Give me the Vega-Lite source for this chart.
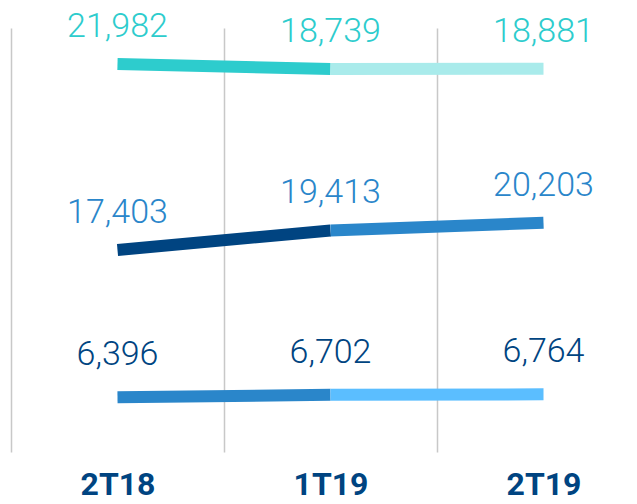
{
  "$schema": "https://vega.github.io/schema/vega-lite/v6.json",
  "width": 637,
  "height": 424,
  "autosize": {"type": "none"},
  "padding": {"top": 28, "bottom": 52, "left": 0, "right": 0},
  "background": "white",
  "config": {"view": {"stroke": null}},
  "data": {
    "values": [
      {"serie": "A", "period": "2T18", "value": 21982},
      {"serie": "A", "period": "1T19", "value": 18739},
      {"serie": "A", "period": "2T19", "value": 18881},
      {"serie": "B", "period": "2T18", "value": 17403},
      {"serie": "B", "period": "1T19", "value": 19413},
      {"serie": "B", "period": "2T19", "value": 20203},
      {"serie": "C", "period": "2T18", "value": 6396},
      {"serie": "C", "period": "1T19", "value": 6702},
      {"serie": "C", "period": "2T19", "value": 6764}
    ]
  },
  "encoding": {
    "x": {
      "field": "period",
      "type": "nominal",
      "sort": ["2T18", "1T19", "2T19"],
      "scale": {"type": "band", "range": [11, 650], "paddingInner": 0, "paddingOuter": 0},
      "axis": {
        "title": null,
        "orient": "bottom",
        "domain": false,
        "ticks": false,
        "grid": true,
        "tickBand": "extent",
        "gridColor": "#c8c8c8",
        "gridWidth": 1.5,
        "labelAngle": 0,
        "labelAlign": "center",
        "labelFont": "Roboto",
        "labelFontWeight": 700,
        "labelFontSize": 32,
        "labelColor": "#004481",
        "labelBaseline": "alphabetic",
        "labelPadding": 42
      }
    }
  },
  "layer": [
    {
      "transform": [{"filter": "datum.serie == 'A'"}],
      "encoding": {
        "y": {"field": "value", "type": "quantitative", "scale": {"domain": [-229639, 45328], "zero": false, "nice": false}, "axis": null}
      },
      "layer": [
        {"transform": [{"filter": {"field": "period", "oneOf": ["2T18", "1T19"]}}], "mark": {"type": "line", "color": "#2dcccd", "strokeWidth": 12, "strokeCap": "butt"}},
        {"transform": [{"filter": {"field": "period", "oneOf": ["1T19", "2T19"]}}], "mark": {"type": "line", "color": "#a9ebeb", "strokeWidth": 12, "strokeCap": "butt"}},
        {"mark": {"type": "text", "color": "#2dcccd", "font": "Roboto", "fontWeight": 300, "fontSize": 34, "baseline": "alphabetic", "dy": -27}, "encoding": {"text": {"field": "value", "type": "quantitative", "format": ","}}}
      ]
    },
    {
      "transform": [{"filter": "datum.serie == 'B'"}],
      "encoding": {
        "y": {"field": "value", "type": "quantitative", "scale": {"domain": [-3420, 40287], "zero": false, "nice": false}, "axis": null}
      },
      "layer": [
        {"transform": [{"filter": {"field": "period", "oneOf": ["2T18", "1T19"]}}], "mark": {"type": "line", "color": "#004481", "strokeWidth": 12, "strokeCap": "butt"}},
        {"transform": [{"filter": {"field": "period", "oneOf": ["1T19", "2T19"]}}], "mark": {"type": "line", "color": "#2a86ca", "strokeWidth": 12, "strokeCap": "butt"}},
        {"mark": {"type": "text", "color": "#2a86ca", "font": "Roboto", "fontWeight": 300, "fontSize": 34, "baseline": "alphabetic", "dy": -27}, "encoding": {"text": {"field": "value", "type": "quantitative", "format": ","}}}
      ]
    },
    {
      "transform": [{"filter": "datum.serie == 'C'"}],
      "encoding": {
        "y": {"field": "value", "type": "quantitative", "scale": {"domain": [-442, 52559], "zero": false, "nice": false}, "axis": null}
      },
      "layer": [
        {"transform": [{"filter": {"field": "period", "oneOf": ["2T18", "1T19"]}}], "mark": {"type": "line", "color": "#2a86ca", "strokeWidth": 12, "strokeCap": "butt"}},
        {"transform": [{"filter": {"field": "period", "oneOf": ["1T19", "2T19"]}}], "mark": {"type": "line", "color": "#5bbeff", "strokeWidth": 12, "strokeCap": "butt"}},
        {"mark": {"type": "text", "color": "#004481", "font": "Roboto", "fontWeight": 300, "fontSize": 34, "baseline": "alphabetic", "dy": -32}, "encoding": {"text": {"field": "value", "type": "quantitative", "format": ","}}}
      ]
    }
  ],
  "resolve": {"scale": {"y": "independent"}}
}
